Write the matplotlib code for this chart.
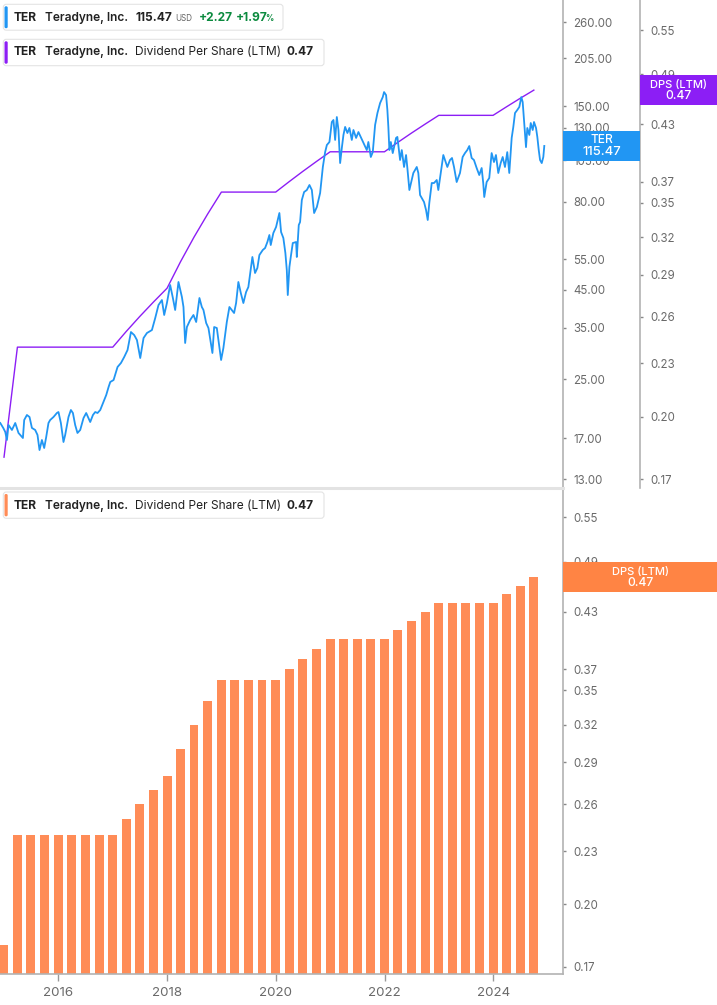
import datetime as dt
import numpy as np
import pandas as pd
import matplotlib
matplotlib.use("Agg")
import matplotlib.pyplot as plt
from matplotlib.patches import FancyBboxPatch, Rectangle
from matplotlib.transforms import Affine2D
from matplotlib.ticker import FixedLocator, FixedFormatter, NullLocator

plt.rcParams['font.family'] = ['Inter', 'DejaVu Sans']

# ---------------- data ----------------
# TER share price (USD), traced points: fractional year, price
price_year = [2014.928, 2014.983, 2015.020, 2015.051, 2015.080, 2015.143, 2015.204, 2015.264, 2015.345, 2015.369,
              2015.419, 2015.467, 2015.511, 2015.571, 2015.614, 2015.651, 2015.695, 2015.737, 2015.774, 2015.816,
              2015.847, 2015.908, 2015.971, 2016.000, 2016.044, 2016.092, 2016.123, 2016.184, 2016.228, 2016.265,
              2016.307, 2016.349, 2016.399, 2016.460, 2016.509, 2016.583, 2016.633, 2016.675, 2016.717, 2016.767,
              2016.840, 2016.877, 2016.920, 2016.951, 2017.012, 2017.085, 2017.148, 2017.208, 2017.269, 2017.332,
              2017.392, 2017.442, 2017.503, 2017.564, 2017.626, 2017.718, 2017.779, 2017.839, 2017.902, 2017.944,
              2017.994, 2018.054, 2018.104, 2018.146, 2018.207, 2018.270, 2018.299, 2018.330, 2018.362, 2018.422,
              2018.483, 2018.533, 2018.593, 2018.637, 2018.667, 2018.717, 2018.759, 2018.803, 2018.832, 2018.864,
              2018.913, 2018.961, 2018.992, 2019.034, 2019.097, 2019.145, 2019.189, 2019.231, 2019.268, 2019.310,
              2019.355, 2019.402, 2019.452, 2019.494, 2019.568, 2019.617, 2019.660, 2019.697, 2019.759, 2019.802,
              2019.844, 2019.881, 2019.906, 2019.954, 2020.004, 2020.065, 2020.096, 2020.138, 2020.175, 2020.201,
              2020.219, 2020.249, 2020.274, 2020.311, 2020.372, 2020.385, 2020.421, 2020.445, 2020.477, 2020.519,
              2020.569, 2020.617, 2020.661, 2020.703, 2020.753, 2020.813, 2020.863, 2020.905, 2020.937, 2020.984,
              2021.028, 2021.058, 2021.089, 2021.120, 2021.150, 2021.181, 2021.212, 2021.242, 2021.273, 2021.315,
              2021.352, 2021.396, 2021.426, 2021.475, 2021.518, 2021.610, 2021.672, 2021.701, 2021.746, 2021.782,
              2021.825, 2021.868, 2021.917, 2021.966, 2021.990, 2022.027, 2022.051, 2022.069, 2022.088, 2022.114,
              2022.150, 2022.211, 2022.235, 2022.285, 2022.316, 2022.358, 2022.395, 2022.419, 2022.456, 2022.500,
              2022.529, 2022.592, 2022.621, 2022.653, 2022.684, 2022.726, 2022.763, 2022.794, 2022.823, 2022.868,
              2022.910, 2022.960, 2022.989, 2023.033, 2023.081, 2023.112, 2023.155, 2023.204, 2023.241, 2023.278,
              2023.327, 2023.388, 2023.437, 2023.480, 2023.522, 2023.559, 2023.603, 2023.645, 2023.695, 2023.743,
              2023.787, 2023.816, 2023.835, 2023.879, 2023.927, 2023.971, 2024.014, 2024.050, 2024.093, 2024.137,
              2024.174, 2024.216, 2024.258, 2024.295, 2024.339, 2024.369, 2024.400, 2024.442, 2024.479, 2024.516,
              2024.541, 2024.565, 2024.584, 2024.602, 2024.626, 2024.663, 2024.689, 2024.725, 2024.749, 2024.786,
              2024.810, 2024.836, 2024.860, 2024.891, 2024.920, 2024.938]
price_usd = [18.77, 18.17, 17.70, 16.79, 18.52, 17.93, 18.77, 17.58, 17.01, 19.14,
             19.78, 19.52, 18.17, 17.93, 17.35, 15.72, 16.79, 15.93, 17.12, 18.77,
             19.14, 19.52, 20.04, 20.17, 18.77, 16.57, 17.35, 19.52, 20.44, 20.04,
             18.52, 17.58, 17.93, 19.39, 20.04, 18.89, 19.78, 20.17, 20.04, 20.44,
             21.82, 22.55, 23.76, 24.56, 24.88, 27.10, 27.82, 28.94, 30.29, 34.08,
             33.41, 32.34, 28.74, 32.77, 33.86, 34.53, 37.37, 40.68, 42.04, 38.11,
             41.22, 46.39, 42.60, 39.38, 47.32, 42.88, 40.16, 31.71, 35.22, 36.88,
             38.11, 36.40, 42.60, 40.16, 39.38, 36.16, 34.99, 31.71, 29.70, 35.22,
             34.99, 30.89, 28.37, 30.69, 36.40, 40.16, 39.38, 38.61, 41.22, 47.32,
             44.01, 41.22, 44.30, 45.78, 55.75, 50.19, 51.87, 56.47, 58.36, 59.13,
             61.50, 64.39, 60.30, 65.24, 67.86, 74.38, 65.67, 63.13, 57.22, 51.19,
             43.44, 52.21, 55.75, 61.09, 61.50, 55.75, 68.75, 70.12, 81.00, 85.36,
             86.49, 89.38, 86.49, 74.38, 77.37, 84.80, 100.6, 110.9, 116.2, 118.5,
             135.1, 136.9, 120.1, 139.6, 128.2, 103.2, 113.9, 124.1, 130.8, 125.7,
             129.9, 120.1, 128.2, 121.7, 126.5, 117.8, 112.4, 118.5, 107.4, 110.9,
             132.5, 143.3, 153.0, 159.1, 164.4, 161.2, 146.2, 130.8, 112.4, 118.5,
             110.2, 121.7, 122.5, 105.3, 112.4, 100.6, 108.8, 99.91, 86.49, 92.35,
             96.69, 100.6, 96.69, 83.70, 82.07, 79.94, 75.86, 71.05, 79.42, 90.55,
             90.55, 92.35, 86.49, 96.69, 108.8, 105.3, 100.6, 105.3, 106.7, 100.6,
             91.15, 96.69, 107.4, 110.2, 112.4, 115.4, 106.7, 105.3, 99.91, 95.42,
             99.91, 90.55, 82.61, 91.15, 93.57, 110.2, 103.9, 108.8, 96.69, 103.2,
             107.4, 100.6, 110.9, 96.69, 121.7, 130.8, 143.3, 146.2, 149.1, 159.1,
             154.0, 136.9, 124.1, 114.6, 129.9, 124.1, 134.2, 128.2, 135.1, 129.9,
             122.5, 112.4, 105.3, 103.2, 107.4, 115.47]

# Dividend per share (LTM), quarterly, 2014Q4 .. 2024Q3
dps_quarters = pd.period_range('2014Q4', '2024Q3', freq='Q')
dps_values = [0.18, 0.24, 0.24, 0.24, 0.24, 0.24, 0.24, 0.24, 0.24, 0.25,
              0.26, 0.27, 0.28, 0.30, 0.32, 0.34, 0.36, 0.36, 0.36, 0.36,
              0.36, 0.37, 0.38, 0.39, 0.40, 0.40, 0.40, 0.40, 0.40, 0.41,
              0.42, 0.43, 0.44, 0.44, 0.44, 0.44, 0.44, 0.45, 0.46, 0.47]

price_ticks = [13, 17, 25, 35, 45, 55, 80, 105, 130, 150, 205, 260]
dps_ticks = [0.17, 0.20, 0.23, 0.26, 0.29, 0.32, 0.35, 0.37, 0.43, 0.49, 0.55]
year_ticks = [2016, 2018, 2020, 2022, 2024]

last_price = 115.47
last_dps = 0.47

# ---------------- helpers ----------------
def fy2date(y):
    yr = int(np.floor(y))
    a = dt.datetime(yr, 1, 1)
    b = dt.datetime(yr + 1, 1, 1)
    return a + (b - a) * (y - yr)

price_dates = [fy2date(v) for v in price_year]
dps_dates = [p.end_time.to_pydatetime().replace(hour=0, minute=0, second=0, microsecond=0) for p in dps_quarters]

W, H = 717, 1005
BLUE = '#2196F3'
PURPLE = '#8C1EF5'
ORANGE = '#FF8C57'
ORANGE_BOX = '#FF8444'
GREY_SPINE = '#b3b3b3'
TICK_COL = '#6a6a6a'
TXT = '#222222'
GREEN = '#0B8A3E'

fig = plt.figure(figsize=(W / 100, H / 100), dpi=100)
fig.patch.set_facecolor('white')

ax_top = fig.add_axes([0, (H - 488) / H, 563 / W, 488 / H])
ax_bot = fig.add_axes([0, (H - 974) / H, 563 / W, (974 - 489) / H])

xmin = dt.datetime(2014, 12, 4)
xmax = dt.datetime(2025, 4, 14)

# ---- top panel: DPS line on a twin axis ----
ax2 = ax_top.twinx()
ax2.plot(dps_dates, dps_values, color=PURPLE, lw=1.0, zorder=2)
ax2.set_yscale('log')
ax2.set_ylim(0.16605, 0.5949)
ax2.yaxis.set_major_locator(FixedLocator(dps_ticks))
ax2.yaxis.set_major_formatter(FixedFormatter(['%.2f' % v for v in dps_ticks]))
ax2.yaxis.set_minor_locator(NullLocator())
ax2.spines['right'].set_position(('axes', 640 / 563))
for s in ['top', 'left', 'bottom']:
    ax2.spines[s].set_visible(False)
ax2.spines['right'].set_color(GREY_SPINE)
ax2.spines['right'].set_linewidth(1.2)
ax2.tick_params(axis='y', which='major', length=2.5, width=1, color='#888888',
                labelsize=8.3, labelcolor=TICK_COL, pad=5)

# ---- top panel: price ----
ax_top.plot(price_dates, price_usd, color=BLUE, lw=1.3, zorder=3, solid_joinstyle='round')
ax_top.set_zorder(ax2.get_zorder() + 1)
ax_top.patch.set_visible(False)
ax_top.set_yscale('log')
ax_top.set_xlim(xmin, xmax)
ax_top.set_ylim(12.255, 300.7)
ax_top.yaxis.set_major_locator(FixedLocator(price_ticks))
ax_top.yaxis.set_major_formatter(FixedFormatter(['%.2f' % v for v in price_ticks]))
ax_top.yaxis.set_minor_locator(NullLocator())
ax_top.yaxis.tick_right()
ax_top.yaxis.set_label_position('right')
ax_top.tick_params(axis='y', which='major', left=False, labelleft=False, right=True, labelright=True,
                   length=2.5, width=1, color='#888888', labelsize=8.3, labelcolor=TICK_COL, pad=5)
ax_top.tick_params(axis='x', which='both', bottom=False, labelbottom=False)
for s in ['top', 'left']:
    ax_top.spines[s].set_visible(False)
ax_top.spines['right'].set_color(GREY_SPINE)
ax_top.spines['right'].set_linewidth(1.2)
ax_top.spines['bottom'].set_color('#e3e3e3')
ax_top.spines['bottom'].set_linewidth(2.2)

# ---- bottom panel: bars ----
bar_base = 0.01
ax_bot.bar(dps_dates, [v - bar_base for v in dps_values], width=60, bottom=bar_base,
           color=ORANGE, align='center', zorder=2)
ax_bot.set_yscale('log')
ax_bot.set_xlim(xmin, xmax)
ax_bot.set_ylim(0.16679, 0.5922)
ax_bot.yaxis.set_major_locator(FixedLocator(dps_ticks))
ax_bot.yaxis.set_major_formatter(FixedFormatter(['%.2f' % v for v in dps_ticks]))
ax_bot.yaxis.set_minor_locator(NullLocator())
ax_bot.yaxis.tick_right()
ax_bot.tick_params(axis='y', which='major', length=2.5, width=1, color='#888888',
                   labelsize=8.3, labelcolor=TICK_COL, pad=5)
ax_bot.xaxis.set_major_locator(FixedLocator([matplotlib.dates.date2num(dt.datetime(y, 1, 1)) for y in year_ticks]))
ax_bot.xaxis.set_major_formatter(FixedFormatter([str(y) for y in year_ticks]))
ax_bot.xaxis.set_minor_locator(NullLocator())
ax_bot.tick_params(axis='x', which='major', length=5, width=1, color='#999999',
                   labelsize=9.6, labelcolor=TICK_COL, pad=4)
for s in ['top', 'left']:
    ax_bot.spines[s].set_visible(False)
for s in ['right', 'bottom']:
    ax_bot.spines[s].set_color(GREY_SPINE)
    ax_bot.spines[s].set_linewidth(1.2)

# ---------------- overlays (pixel coordinates, top-left origin) ----------------
pix = Affine2D().scale(1 / W, -1 / H).translate(0, 1) + fig.transFigure


def legend_box(x0, y0, x1, y1, stripe):
    fig.add_artist(FancyBboxPatch((x0, y0), x1 - x0, y1 - y0,
                                  boxstyle='round,pad=0,rounding_size=3',
                                  transform=pix, fc='white', ec='#e4e4e4', lw=0.8, zorder=5))
    fig.add_artist(FancyBboxPatch((x0 + 1.2, y0 + 2), 3.2, y1 - y0 - 4,
                                  boxstyle='round,pad=0,rounding_size=1.4',
                                  transform=pix, fc=stripe, ec='none', zorder=6))


def t(x, y, s, size=8.6, weight='normal', color=TXT):
    fig.text(x, y, s, transform=pix, fontsize=size, fontweight=weight, color=color,
             ha='left', va='baseline', zorder=7)


# legend 1: price
legend_box(3.3, 4.3, 283, 30.2, BLUE)
t(13.3, 20.8, 'TER', weight='bold')
t(45, 20.8, 'Teradyne, Inc.', weight='semibold')
t(135.5, 20.8, '%.2f' % last_price, weight='bold')
t(175, 20.8, 'USD', size=5.8, color='#666666')
t(199, 20.8, '+2.27', weight='bold', color=GREEN)
t(235.5, 20.8, '+1.97', weight='bold', color=GREEN)
t(265.5, 20.8, '%', size=5.8, weight='bold', color=GREEN)

# legend 2: DPS line
legend_box(3.3, 39.3, 324, 65.7, PURPLE)
t(13.3, 55.2, 'TER', weight='bold')
t(45, 55.2, 'Teradyne, Inc.', weight='semibold')
t(135, 55.2, 'Dividend Per Share (LTM)')
t(286.5, 55.2, '%.2f' % last_dps, weight='bold')

# legend 3: DPS bars
legend_box(3.3, 492, 324, 518.3, ORANGE)
t(13.3, 508.8, 'TER', weight='bold')
t(45, 508.8, 'Teradyne, Inc.', weight='semibold')
t(135, 508.8, 'Dividend Per Share (LTM)')
t(286.5, 508.8, '%.2f' % last_dps, weight='bold')


def ypix(ax, v):
    return H - ax.transData.transform((ax.get_xlim()[0], v))[1]


def value_box(x0, x1, yc, color, line1, line2, size=8.2):
    fig.add_artist(Rectangle((x0, yc - 15), x1 - x0, 30, transform=pix, fc=color, ec='none', zorder=8))
    xc = (x0 + x1) / 2
    fig.text(xc, yc - 5.5, line1, transform=pix, fontsize=size, color='white', ha='center', va='center',
             fontweight='medium', zorder=9)
    fig.text(xc, yc + 6, line2, transform=pix, fontsize=size + 0.8, color='white', ha='center', va='center',
             fontweight='medium', zorder=9)


value_box(563, 640, ypix(ax_top, last_price), BLUE, 'TER', '%.2f' % last_price, size=8.6)
value_box(640, 717, ypix(ax2, last_dps), PURPLE, 'DPS (LTM)', '%.2f' % last_dps, size=8.0)
value_box(563, 717, ypix(ax_bot, last_dps), ORANGE_BOX, 'DPS (LTM)', '%.2f' % last_dps, size=8.0)

fig.savefig('out.png', dpi=100, facecolor='white')
